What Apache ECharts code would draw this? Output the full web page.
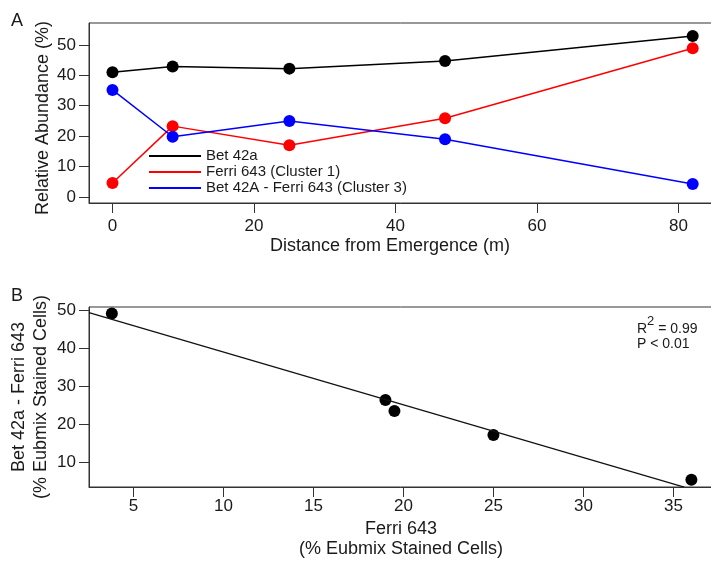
<!DOCTYPE html>
<html>
<head>
<meta charset="utf-8">
<script src="https://cdn.jsdelivr.net/npm/echarts@6/dist/echarts.min.js"></script>
<style>
  html, body {margin: 0; padding: 0; background: #fff;}
  #chart {width: 711px; height: 561px;}
</style>
</head>
<body>
<div id="chart"></div>
<script>
// panel A: relative abundance vs distance
var distance = [0, 8.5, 25, 47, 82];
var bet42a = [41.0, 42.9, 42.2, 44.7, 52.9];
var ferri643 = [4.6, 23.3, 17.0, 25.9, 48.9];
var betMinusFerri = [35.2, 19.8, 25.0, 19.0, 4.3];
var xTicksA = [0, 20, 40, 60, 80];
var yTicksA = [0, 10, 20, 30, 40, 50];

// panel B: Bet 42a - Ferri 643 vs Ferri 643
var ferriB = [3.8, 19.0, 19.5, 25.0, 36.0];
var betFerriB = [49.1, 26.3, 23.4, 17.1, 5.3];
var fitX = [2.53, 35.6];
var fitY = [49.3, 3.4];
var xTicksB = [5, 10, 15, 20, 25, 30, 35];
var yTicksB = [10, 20, 30, 40, 50];

var FONT = 'Liberation Sans';
var AXIS = '#333';
var TEXT = '#1a1a1a';

function zip(xs, ys) {
    return xs.map(function (x, i) { return [x, ys[i]]; });
}

function valueAxis(ticks, labelMargin, extra) {
    return Object.assign({
        type: 'value',
        axisLine: {show: true, onZero: false, lineStyle: {color: AXIS, width: 1}},
        axisTick: {show: true, length: 10, customValues: ticks, lineStyle: {color: AXIS, width: 1}},
        axisLabel: {customValues: ticks, margin: labelMargin, fontFamily: FONT, fontSize: 17, color: TEXT},
        splitLine: {show: false},
        nameLocation: 'middle',
        nameMoveOverlap: false,
    }, extra);
}

function titleStyle(extra) {
    return Object.assign({fontFamily: FONT, fontSize: 18, color: TEXT}, extra);
}

var chart = echarts.init(document.getElementById('chart'), null, {renderer: 'canvas'});

chart.setOption({
    animation: false,
    grid: [
        {left: 89, top: 23, width: 624, height: 180, show: true, borderColor: AXIS, borderWidth: 1,
            outerBoundsMode: 'none', containLabel: false},
        {left: 89, top: 307, width: 624, height: 180, show: true, borderColor: AXIS, borderWidth: 1,
            outerBoundsMode: 'none', containLabel: false}
    ],
    xAxis: [
        valueAxis(xTicksA, 15, {
            gridIndex: 0, min: -3.32, max: 84.87,
            name: 'Distance from Emergence (m)', nameGap: 34,
            nameTextStyle: titleStyle({padding: [0, 22, 0, 0]})
        }),
        valueAxis(xTicksB, 11, {
            gridIndex: 1, min: 2.53, max: 37.2,
            name: 'Ferri 643\n(% Eubmix Stained Cells)', nameGap: 32,
            nameTextStyle: titleStyle({lineHeight: 20})
        })
    ],
    yAxis: [
        valueAxis(yTicksA, 13, {
            gridIndex: 0, min: -1.97, max: 57.2,
            name: 'Relative Abundance (%)', nameGap: 37,
            nameTextStyle: titleStyle({padding: [0, 10, 0, 0]})
        }),
        valueAxis(yTicksB, 13, {
            gridIndex: 1, min: 3.42, max: 50.8,
            name: 'Bet 42a - Ferri 643\n(% Eubmix Stained Cells)', nameGap: 37,
            nameTextStyle: titleStyle({lineHeight: 22})
        })
    ],
    legend: {
        orient: 'vertical',
        left: 149, top: 148,
        padding: 0,
        itemWidth: 52, itemHeight: 2, itemGap: 0,
        icon: 'rect',
        textStyle: {fontFamily: FONT, fontSize: 15, lineHeight: 16, color: TEXT},
        data: ['Bet 42a', 'Ferri 643 (Cluster 1)', 'Bet 42A - Ferri 643 (Cluster 3)']
    },
    series: [
        {
            name: 'Bet 42a', type: 'line', xAxisIndex: 0, yAxisIndex: 0,
            data: zip(distance, bet42a),
            symbol: 'circle', symbolSize: 12,
            itemStyle: {color: '#000'}, lineStyle: {color: '#000', width: 1.5}
        },
        {
            name: 'Ferri 643 (Cluster 1)', type: 'line', xAxisIndex: 0, yAxisIndex: 0,
            data: zip(distance, ferri643),
            symbol: 'circle', symbolSize: 12,
            itemStyle: {color: '#ff0000'}, lineStyle: {color: '#ff0000', width: 1.5}
        },
        {
            name: 'Bet 42A - Ferri 643 (Cluster 3)', type: 'line', xAxisIndex: 0, yAxisIndex: 0,
            data: zip(distance, betMinusFerri),
            symbol: 'circle', symbolSize: 12,
            itemStyle: {color: '#0000ff'}, lineStyle: {color: '#0000ff', width: 1.5}
        },
        {
            name: 'fit', type: 'line', xAxisIndex: 1, yAxisIndex: 1,
            data: zip(fitX, fitY),
            symbol: 'none',
            lineStyle: {color: '#111', width: 1.2}
        },
        {
            name: 'samples', type: 'scatter', xAxisIndex: 1, yAxisIndex: 1,
            data: zip(ferriB, betFerriB),
            symbol: 'circle', symbolSize: 12,
            itemStyle: {color: '#000', opacity: 1}
        }
    ],
    graphic: [
        {type: 'text', left: 11, top: 12, style: {text: 'A', fontFamily: FONT, fontSize: 18, fill: TEXT}},
        {type: 'text', left: 11, top: 287, style: {text: 'B', fontFamily: FONT, fontSize: 18, fill: TEXT}},
        {
            type: 'text', left: 637, top: 315,
            style: {
                text: '{r|R}{s|2}{r| = 0.99}\n{p|P < 0.01}',
                fontFamily: FONT, fill: TEXT,
                rich: {
                    r: {fontFamily: FONT, fontSize: 14, lineHeight: 21, verticalAlign: 'bottom', fill: TEXT},
                    s: {fontFamily: FONT, fontSize: 13, lineHeight: 10, verticalAlign: 'top', fill: TEXT},
                    p: {fontFamily: FONT, fontSize: 14, lineHeight: 16, fill: TEXT}
                }
            }
        }
    ]
});
</script>
</body>
</html>
